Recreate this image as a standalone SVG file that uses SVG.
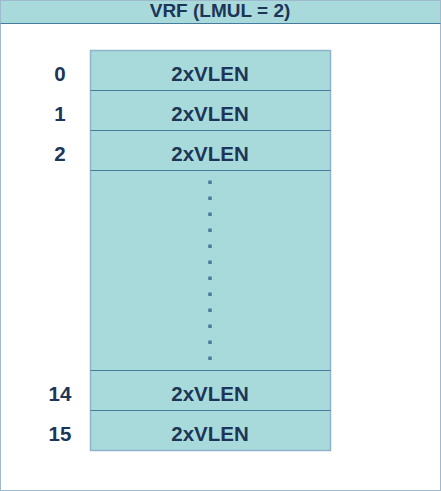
<svg xmlns="http://www.w3.org/2000/svg" width="441" height="491" viewBox="0 0 441 491">
<style>
.t{font-family:"Liberation Sans",Arial,sans-serif;font-weight:bold;font-size:20.5px;fill:#1d3557;text-anchor:middle;dominant-baseline:central}
.h{font-size:19px}
.sep{stroke:#457b9d;stroke-width:1}
</style>
<rect width="441" height="491" fill="#ffffff"/>
<g id="frame">
<rect x="0.5" y="0.5" width="440" height="490" fill="#ffffff" stroke="#9fbacd" stroke-width="1"/>
<rect x="0.5" y="0.5" width="440" height="23" fill="#a8dadc" stroke="#9fbacd" stroke-width="1"/>
<line x1="0.5" y1="23.5" x2="440.5" y2="23.5" class="sep"/>
<text class="t h" x="220" y="10.5">VRF (LMUL = 2)</text>
</g>
<g id="registers">
<rect x="90.5" y="50.5" width="240" height="400" fill="#a8dadc" stroke="#8fb3c8" stroke-width="1.5"/>
<line x1="90.5" y1="90.5" x2="330.5" y2="90.5" class="sep"/>
<line x1="90.5" y1="130.5" x2="330.5" y2="130.5" class="sep"/>
<line x1="90.5" y1="170.5" x2="330.5" y2="170.5" class="sep"/>
<line x1="90.5" y1="370.5" x2="330.5" y2="370.5" class="sep"/>
<line x1="90.5" y1="410.5" x2="330.5" y2="410.5" class="sep"/>
<text class="t" x="210" y="73.5">2xVLEN</text>
<text class="t" x="210" y="113.5">2xVLEN</text>
<text class="t" x="210" y="153.5">2xVLEN</text>
<text class="t" x="210" y="393.5">2xVLEN</text>
<text class="t" x="210" y="433.5">2xVLEN</text>
<line x1="210" y1="180.5" x2="210" y2="362" stroke="#457b9d" stroke-width="3.5" stroke-dasharray="3.5 12.5"/>
</g>
<g id="labels">
<text class="t" x="60" y="73.5">0</text>
<text class="t" x="60" y="113.5">1</text>
<text class="t" x="60" y="153.5">2</text>
<text class="t" x="60" y="393.5">14</text>
<text class="t" x="60" y="433.5">15</text>
</g>
</svg>
